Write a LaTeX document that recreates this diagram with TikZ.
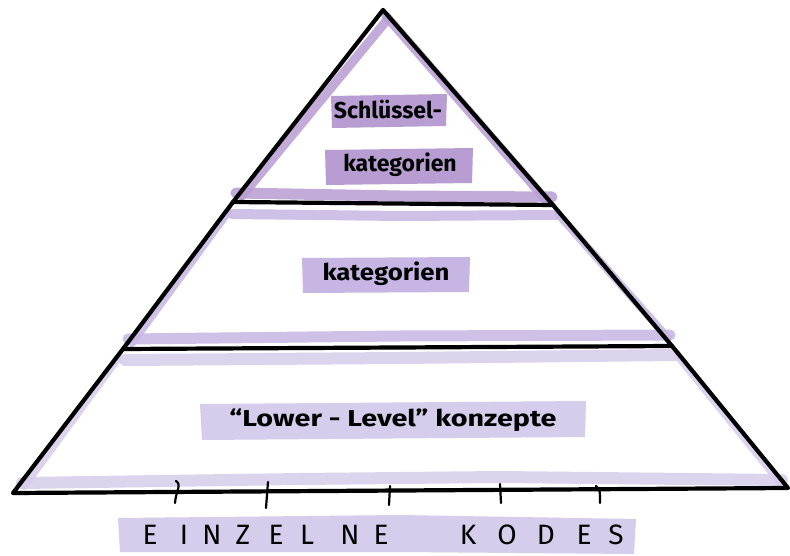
\documentclass[tikz,border=0pt]{standalone}
\usepackage{fontspec}
\setmainfont{Fira Sans}
\definecolor{pTop}{HTML}{B89DD2}
\definecolor{pMid}{HTML}{C7B6E4}
\definecolor{pLow}{HTML}{D6CCEB}
\begin{document}
\begin{tikzpicture}[x=1pt,y=-1pt,
  edge/.style={line width=4.2pt,line cap=round,line join=round,black},
  stripe/.style={line width=#1,line cap=round,opacity=0.85},
  lbl/.style={inner sep=0pt,font=\fontsize{23}{26}\selectfont\bfseries},
  code/.style={inner sep=0pt,font=\fontsize{28}{30}\selectfont},
  tick/.style={line width=2.2pt,line cap=round}]
\useasboundingbox[fill=white] (0,0) rectangle (790,556);
% key points
\coordinate (A) at (383,10);
\coordinate (L1) at (233,202);
\coordinate (R1) at (553,205);
\coordinate (L2) at (123,349);
\coordinate (R2) at (672,346);
\coordinate (L3) at (13,493);
\coordinate (R3) at (788,488);
% ---- purple strips: top section
\draw[stripe=9pt,pTop] (387,20) -- (242,196);
\draw[stripe=9pt,pTop] (386,16) -- (546,200);
\draw[stripe=11pt,pTop] (236,193) -- (400,196) -- (552,197);
% ---- middle section
\draw[stripe=10pt,pMid] (232,214) -- (400,216) -- (556,215);
\draw[stripe=8pt,pMid] (228,212) -- (132,343);
\draw[stripe=8pt,pMid] (558,214) -- (668,338);
\draw[stripe=11pt,pMid] (128,339) -- (400,336) -- (670,335);
% ---- bottom section
\draw[stripe=12pt,pLow] (125,360) -- (400,358) -- (675,355);
\draw[stripe=8pt,pLow] (118,358) -- (24,486);
\draw[stripe=8pt,pLow] (678,356) -- (780,482);
\draw[stripe=12pt,pLow] (22,483) -- (300,479) -- (500,477) -- (782,480);
% ---- label highlights
\fill[pTop] (331,96) -- (447,94) -- (446,126) -- (332,128) -- cycle;
\fill[pTop] (325,150) -- (473,148) -- (472,183) -- (326,185) -- cycle;
\fill[pMid] (302,258) -- (470,257) -- (469,292) -- (303,293) -- cycle;
\fill[pLow] (200,404) -- (586,401) -- (585,437) -- (202,440) -- cycle;
\fill[pLow] (118,518) -- (400,515) -- (636,519) -- (634,554) -- (400,552) -- (120,552) -- cycle;
% ---- pyramid outline
\draw[edge] (L3) -- (L2) -- (L1) -- (A) -- (R1) -- (R2) -- (R3) -- cycle;
\draw[edge] (L1) -- (R1);
\draw[edge] (L2) -- (R2);
% ---- ticks on the base
\draw[tick] (176,481) .. controls (182,485) and (176,490) .. (175,503);
\draw[tick] (268,482) -- (266,508);
\draw[tick] (390,486) -- (389,505);
\draw[tick] (500,484) -- (501,503);
\draw[tick] (596,486) .. controls (600,490) .. (600,503);
% ---- texts
\node[lbl] (t1) at (388,110) {Schlüssel-};
\node[lbl] (t2) at (400,165) {kategorien};
\node[lbl] (t3) at (386,274) {\scalebox{1.12}[1]{kategorien}};
\node[lbl] (t4) at (393,420) {\scalebox{1.25}[1]{“Lower - Level” konzepte}};
\foreach \x/\c [count=\i] in {150/E,184/I,212/N,243/Z,276/E,307/L,350/N,381/E,468/K,507/O,546/D,584/E,616/S}
  \node[code] (k\i) at (\x,535) {\c};
\end{tikzpicture}
\end{document}
